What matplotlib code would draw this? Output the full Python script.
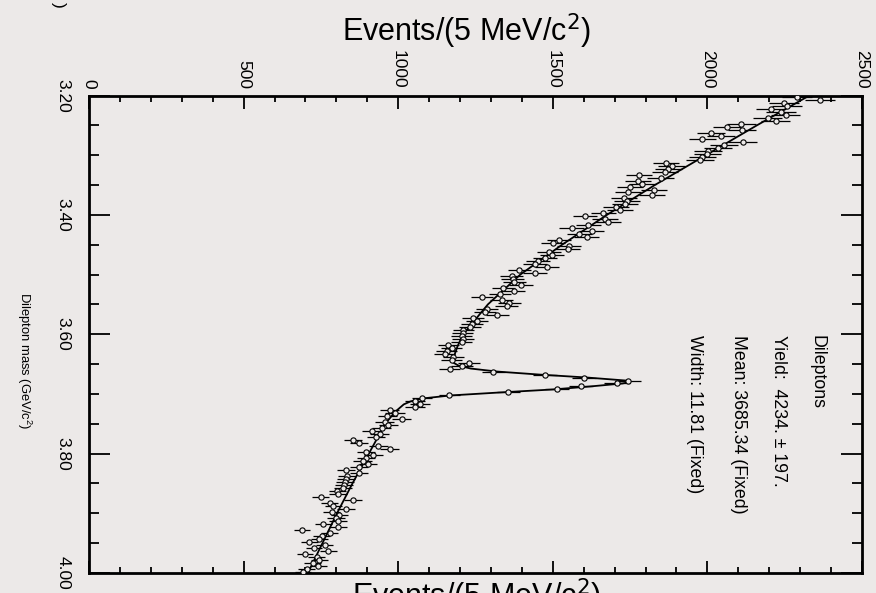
import numpy as np
import matplotlib
matplotlib.use("Agg")
import matplotlib.pyplot as plt
from matplotlib import font_manager
from matplotlib.ticker import MultipleLocator

# dilepton mass histogram, 5 MeV bins from 3.20 to 4.00 GeV/c^2
mass_lo, mass_hi, bin_w = 3.20, 4.00, 0.005
counts = [
    2290, 2364, 2248, 2258, 2205, 2238, 2253, 2195, 2221, 2110,
    2062, 2111, 2011, 2043, 1984, 2114, 2055, 2035, 2003, 2000,
    1984, 1976, 1866, 1884, 1874, 1863, 1780, 1849, 1777, 1790,
    1750, 1827, 1744, 1821, 1730, 1739, 1734, 1704, 1717, 1663,
    1604, 1669, 1679, 1615, 1561, 1626, 1586, 1610, 1521, 1502,
    1553, 1548, 1488, 1496, 1475, 1453, 1442, 1480, 1392, 1442,
    1367, 1370, 1376, 1397, 1340, 1374, 1329, 1272, 1335, 1359,
    1351, 1286, 1281, 1321, 1243, 1254, 1238, 1232, 1211, 1208,
    1205, 1209, 1205, 1162, 1173, 1157, 1151, 1178, 1173, 1230,
    1207, 1167, 1308, 1475, 1601, 1744, 1707, 1591, 1513, 1356,
    1165, 1076, 1054, 1070, 1054, 973, 990, 965, 1011, 957,
    968, 947, 914, 941, 928, 855, 874, 936, 972, 896,
    920, 896, 885, 903, 874, 831, 874, 835, 831, 828,
    825, 822, 803, 806, 749, 853, 779, 790, 831, 785,
    810, 799, 806, 758, 806, 688, 779, 752, 745, 713,
    763, 728, 774, 699, 736, 745, 723, 742, 704, 693,
]

# fitted curve
fit_mass = [3.20, 3.25, 3.30, 3.35, 3.40, 3.45, 3.50, 3.55, 3.60, 3.62,
            3.6375, 3.6475, 3.6525, 3.6575, 3.6625, 3.6675, 3.6725, 3.6775,
            3.680, 3.6825, 3.6875, 3.6925, 3.6975, 3.7025, 3.7075, 3.7125,
            3.7175, 3.73, 3.75, 3.80, 3.85, 3.90, 3.95, 4.00]
fit_events = [2330, 2160, 1995, 1830, 1675, 1530, 1395, 1290, 1210, 1192,
              1180, 1178, 1195, 1235, 1320, 1455, 1610, 1735,
              1750, 1725, 1620, 1500, 1330, 1170, 1080, 1040,
              1018, 990, 958, 905, 852, 802, 755, 708]

fit_lines = ["Dileptons", "Yield:  4234. \u00b1 197.",
             "Mean: 3685.34 (Fixed)", "Width: 11.81 (Fixed)"]
count_ticks = [0, 500, 1000, 1500, 2000, 2500]
mass_ticks = [3.20, 3.40, 3.60, 3.80, 4.00]

bg = "#ece9e8"
names = {f.name for f in font_manager.fontManager.ttflist}
if "Liberation Sans Narrow" in names:
    nfont, k = "Liberation Sans Narrow", 1.22
else:
    nfont, k = "Liberation Sans", 1.0
plt.rcParams["font.family"] = [nfont, "Liberation Sans", "DejaVu Sans"]
plt.rcParams["mathtext.fontset"] = "custom"
plt.rcParams["mathtext.rm"] = nfont
plt.rcParams["mathtext.it"] = nfont

fig = plt.figure(figsize=(8.76, 5.93), dpi=100, facecolor=bg)
ax = fig.add_axes([89 / 876, 1 - 573 / 593, (862 - 89) / 876, (573 - 95.5) / 593])
ax.set_facecolor(bg)

counts = np.array(counts, dtype=float)
centers = mass_lo + bin_w * (np.arange(len(counts)) + 0.5)

ax.plot(fit_events, fit_mass, color="k", lw=1.3, zorder=2)
ax.errorbar(counts, centers, xerr=np.sqrt(counts), fmt="o", ms=3.8,
            mfc=bg, mec="k", mew=0.8, ecolor="k", elinewidth=0.9,
            capsize=0, zorder=3)

ax.set_xlim(0, 2500)
ax.set_ylim(mass_hi, mass_lo)
ax.set_xticks(count_ticks)
ax.set_yticks(mass_ticks)
ax.set_yticklabels(["%.2f" % m for m in mass_ticks])
ax.xaxis.set_minor_locator(MultipleLocator(100))
ax.yaxis.set_minor_locator(MultipleLocator(0.05))

for s in ax.spines.values():
    s.set_linewidth(2)
ax.tick_params(axis="x", which="both", direction="in", top=True, bottom=True,
               labeltop=True, labelbottom=False, labelrotation=270,
               labelsize=12.5 * k, pad=5, width=1.3)
ax.tick_params(axis="x", which="major", length=9)
ax.tick_params(axis="x", which="minor", length=4)
ax.tick_params(axis="y", which="both", direction="in", left=True, right=True,
               labelleft=True, labelright=False, labelrotation=270,
               labelsize=12.5 * k, pad=13.5, width=1.3)
ax.tick_params(axis="y", which="major", length=15)
ax.tick_params(axis="y", which="minor", length=7.5)
for lbl in ax.get_yticklabels():
    lbl.set_va("center")

# fit result box
xs = [817, 779, 738, 695]
for line, xp in zip(fit_lines, xs):
    fig.text(xp / 876, 1 - 335 / 593, line, rotation=270, ha="center",
             va="top", fontsize=12.8 * k)

fig.text(24 / 876, 1 - 361 / 593, r"Dilepton mass (GeV/c$^{2}$)",
         rotation=270, ha="center", va="center", fontsize=9.4 * k)
# tail of a label cut off at the top edge
fig.text(58 / 876, 1 - 8 / 593, ")", rotation=270, ha="center",
         va="bottom", fontsize=12.5 * k)
fig.text(466 / 876, 1 - 31 / 593, r"Events/(5 MeV/c$^{2}$)", ha="center",
         va="center", fontsize=22, family=["Liberation Sans", "DejaVu Sans"],
         math_fontfamily="dejavusans")
fig.text(476 / 876, 1 - 577 / 593, r"Events/(5 MeV/c$^{2}$)", ha="center",
         va="top", fontsize=22, family=["Liberation Sans", "DejaVu Sans"],
         math_fontfamily="dejavusans")

fig.savefig("out.png", dpi=100, facecolor=bg)
